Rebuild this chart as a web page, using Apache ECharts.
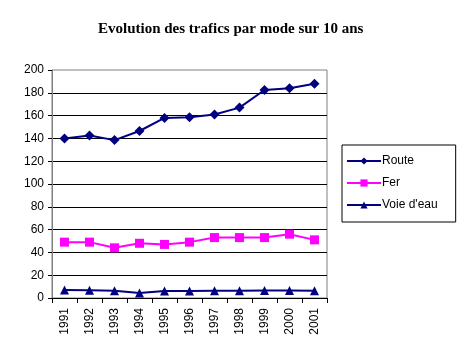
<!DOCTYPE html>
<html><head><meta charset="utf-8">
<script src="https://cdn.jsdelivr.net/npm/echarts@6/dist/echarts.min.js"></script>
<style>html,body{margin:0;padding:0;background:#fff}#c{width:457px;height:357px}</style>
</head><body><div id="c"></div>
<script>
const years = ['1991','1992','1993','1994','1995','1996','1997','1998','1999','2000','2001'];
const route = [140, 142.5, 138.5, 146.5, 158, 158.5, 161, 167, 182.5, 184, 188];
const fer = [49, 49, 44, 48, 47, 49, 53, 53, 53, 56, 51];
const voie = [7, 6.8, 6.4, 4.3, 6.2, 6.2, 6.4, 6.4, 6.5, 6.6, 6.4];
const yTicks = [0,20,40,60,80,100,120,140,160,180,200];

const chart = echarts.init(document.getElementById('c'), null, {renderer:'canvas'});
const font = 'Liberation Sans, Arial, sans-serif';
function mk(name, data, color, symbol, size){
  return {name, type:'line', data, symbol, symbolSize:size, showSymbol:true,
    lineStyle:{color, width:2}, itemStyle:{color, borderWidth:0}, animation:false, z:3};
}
chart.setOption({
  animation:false,
  title:{text:'Evolution des trafics par mode sur 10 ans', left:93, top:17,
    textStyle:{fontFamily:'Liberation Serif, Times New Roman, serif', fontSize:15, fontWeight:'bold', color:'#000'}},
  grid:{left:52, right:130, top:70, bottom:59, show:true, borderColor:'#808080', borderWidth:1, backgroundColor:'transparent'},
  legend:{orient:'vertical', left:342, top:145, itemWidth:34, itemHeight:9, itemGap:10,
    padding:[10,18,11,4], borderColor:'#000', borderWidth:1, backgroundColor:'#fff',
    textStyle:{fontFamily:font, fontSize:12, color:'#000', padding:[0,0,0,-4]},
    data:['Route','Fer','Voie d\'eau']},
  xAxis:{type:'category', data:years, boundaryGap:true,
    axisLine:{lineStyle:{color:'#000', width:1}},
    axisTick:{show:true, length:5, inside:false, lineStyle:{color:'#000'}},
    axisLabel:{rotate:90, fontFamily:font, fontSize:12, color:'#000', margin:10, interval:0},
    splitLine:{show:false}},
  yAxis:{type:'value', min:0, max:200, interval:20,
    axisLine:{show:true, lineStyle:{color:'#808080', width:1}},
    axisTick:{show:true, length:4, lineStyle:{color:'#000'}},
    axisLabel:{fontFamily:font, fontSize:12, color:'#000', margin:8,
      formatter:v=>yTicks.includes(v)?String(v):''},
    splitLine:{show:true, showMaxLine:false, showMinLine:false, lineStyle:{color:'#000', width:1}}},
  series:[
    mk('Route', route, '#000080', 'diamond', 10),
    mk('Fer', fer, '#FF00FF', 'rect', 9),
    mk('Voie d\'eau', voie, '#000080', 'triangle', 9)
  ]
});
</script></body></html>
